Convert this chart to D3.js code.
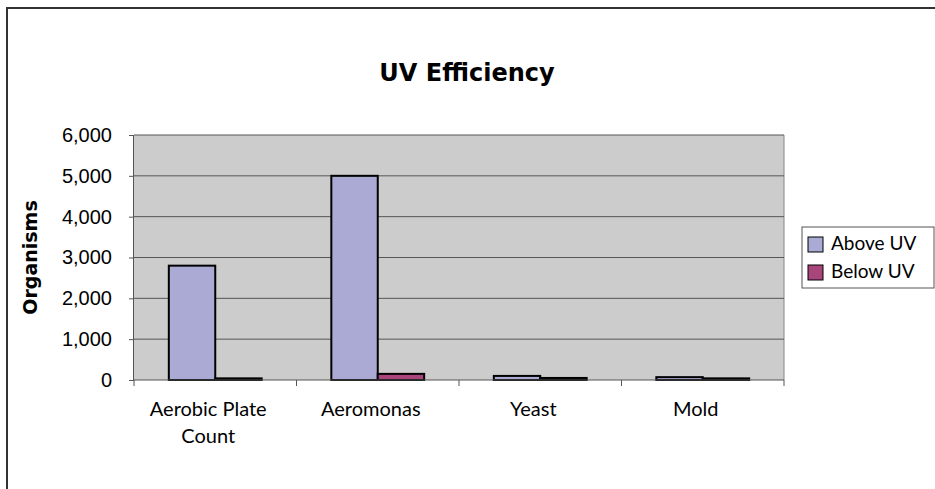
<!DOCTYPE html>
<html>
<head>
<meta charset="utf-8">
<script src="https://cdn.jsdelivr.net/npm/d3@7"></script>
<style>
  body { margin: 0; background: #fff; }
  svg { display: block; font-family: Lato, "Open Sans", sans-serif; }
  .bold { font-family: "DejaVu Sans", sans-serif; font-weight: bold; }
</style>
</head>
<body>
<div id="chart"></div>
<script>
document.addEventListener('DOMContentLoaded', () => {

    // data
    const categories = ["Aerobic Plate Count", "Aeromonas", "Yeast", "Mold"];
    const seriesNames = ["Above UV", "Below UV"];
    const aboveUV = [2800, 5000, 100, 70];
    const belowUV = [40, 150, 50, 40];
    const yTicks = [0, 1000, 2000, 3000, 4000, 5000, 6000];

    const colors = ["#aaaad4", "#a8457a"];
    const width = 935, height = 489;
    const plot = { left: 134, right: 784, top: 135, bottom: 380 };

    const svg = d3.select("#chart").append("svg")
        .attr("width", width)
        .attr("height", height);

    // outer chart frame (runs off the right and bottom edges)
    svg.append("rect")
        .attr("x", 7).attr("y", 8)
        .attr("width", width + 10).attr("height", height + 10)
        .attr("fill", "#fff")
        .attr("stroke", "#333")
        .attr("stroke-width", 2);

    svg.append("text")
        .attr("class", "bold")
        .attr("x", 467).attr("y", 81)
        .attr("text-anchor", "middle")
        .style("font-size", "24px")
        .text("UV Efficiency");

    const x = d3.scaleBand().domain(categories).range([plot.left, plot.right]);
    const inner = d3.scaleBand().domain(seriesNames).range([0, x.bandwidth()])
        .paddingInner(0).paddingOuter(0.75);
    const y = d3.scaleLinear().domain([0, 6000]).range([plot.bottom, plot.top]);

    // plot background
    svg.append("rect")
        .attr("x", plot.left).attr("y", plot.top)
        .attr("width", plot.right - plot.left).attr("height", plot.bottom - plot.top)
        .attr("fill", "#cccccc");

    svg.append("line")
        .attr("x1", plot.right).attr("x2", plot.right)
        .attr("y1", plot.top).attr("y2", plot.bottom)
        .attr("stroke", "#888");

    // gridlines
    svg.append("g")
        .selectAll("line")
        .data(yTicks.filter(d => d > 0))
        .join("line")
        .attr("x1", plot.left).attr("x2", plot.right)
        .attr("y1", d => y(d)).attr("y2", d => y(d))
        .attr("stroke", "#555")
        .attr("stroke-width", 1);

    // bars
    const rows = categories.map((c, i) => ({ cat: c, vals: [aboveUV[i], belowUV[i]] }));
    svg.append("g")
        .selectAll("g")
        .data(rows)
        .join("g")
        .attr("transform", d => `translate(${x(d.cat)},0)`)
        .selectAll("rect")
        .data(d => d.vals.map((v, j) => ({ key: seriesNames[j], v, j })))
        .join("rect")
        .attr("x", d => inner(d.key))
        .attr("y", d => y(d.v))
        .attr("width", inner.bandwidth())
        .attr("height", d => plot.bottom - y(d.v))
        .attr("fill", d => colors[d.j])
        .attr("stroke", "#000")
        .attr("stroke-width", 2);

    // y axis
    const yAxis = svg.append("g")
        .attr("transform", `translate(${plot.left},0)`)
        .call(d3.axisLeft(y).tickValues(yTicks).tickFormat(d3.format(",")).tickSize(5).tickPadding(17));
    yAxis.select(".domain").attr("stroke", "#555").attr("d", `M-0.5,${plot.top}V${plot.bottom}`);
    yAxis.selectAll(".tick line").attr("stroke", "#555");
    yAxis.selectAll("text").style("font-size", "20px").attr("fill", "#000");

    // x axis
    const xAxis = svg.append("g")
        .attr("transform", `translate(0,${plot.bottom})`);
    xAxis.append("line")
        .attr("x1", plot.left).attr("x2", plot.right)
        .attr("y1", 0).attr("y2", 0)
        .attr("stroke", "#555");
    xAxis.selectAll("line.tick")
        .data(d3.range(categories.length + 1))
        .join("line")
        .attr("class", "tick")
        .attr("x1", i => i < categories.length ? x(categories[i]) : plot.right)
        .attr("x2", i => i < categories.length ? x(categories[i]) : plot.right)
        .attr("y1", 0).attr("y2", 6)
        .attr("stroke", "#555");

    const xLabels = { "Aerobic Plate Count": ["Aerobic Plate", "Count"] };
    xAxis.selectAll("text")
        .data(categories)
        .join("text")
        .attr("text-anchor", "middle")
        .style("font-size", "20px")
        .selectAll("tspan")
        .data(d => (xLabels[d] || [d]).map(t => ({ t, c: d })))
        .join("tspan")
        .attr("x", d => x(d.c) + x.bandwidth() / 2 - 7)
        .attr("y", (d, i) => 36 + i * 27)
        .text(d => d.t);

    svg.append("text")
        .attr("class", "bold")
        .attr("transform", `translate(37,${(plot.top + plot.bottom) / 2}) rotate(-90)`)
        .attr("text-anchor", "middle")
        .style("font-size", "19px")
        .text("Organisms");

    // legend
    const legend = svg.append("g").attr("transform", "translate(802,227)");
    legend.append("rect")
        .attr("width", 132).attr("height", 61)
        .attr("fill", "#fff").attr("stroke", "#555");
    const item = legend.selectAll("g")
        .data(seriesNames)
        .join("g")
        .attr("transform", (d, i) => `translate(6,${10 + i * 28})`);
    item.append("rect")
        .attr("width", 15).attr("height", 15)
        .attr("fill", (d, i) => colors[i])
        .attr("stroke", "#000");
    item.append("text")
        .attr("x", 23).attr("y", 13)
        .style("font-size", "19px")
        .text(d => d);
});
</script>
</body>
</html>
